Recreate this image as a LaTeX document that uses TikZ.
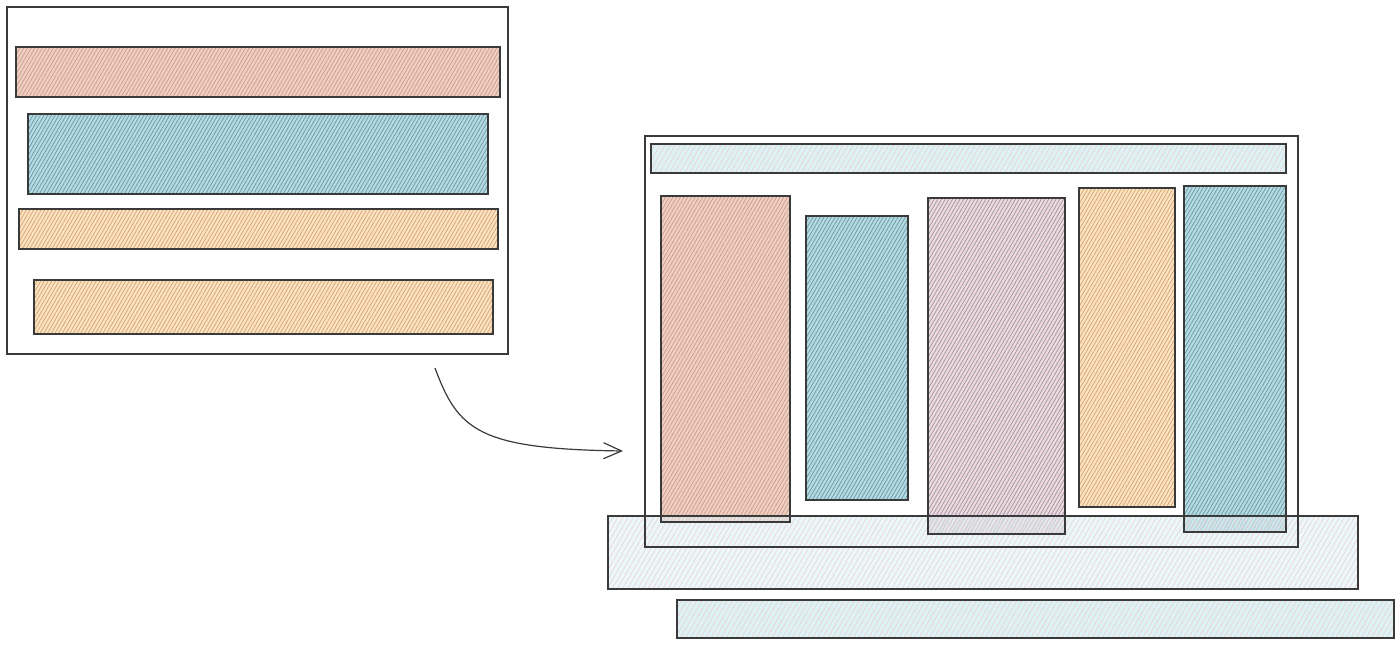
\documentclass[tikz,border=0pt]{standalone}
\usetikzlibrary{patterns.meta,arrows.meta}
\definecolor{ink}{HTML}{3A3A3A}
\definecolor{salF}{HTML}{EDCFC6}\definecolor{salH}{HTML}{CF9C82}
\definecolor{tealF}{HTML}{B2DCE3}\definecolor{tealH}{HTML}{6F959E}
\definecolor{orF}{HTML}{FBE3C0}\definecolor{orH}{HTML}{D5A274}
\definecolor{pkF}{HTML}{F2D8DC}\definecolor{pkH}{HTML}{8E9AA6}
\definecolor{ltF}{HTML}{DDF2F5}\definecolor{ltH}{HTML}{EDC9D0}
\newcommand\pbox[6]{\node[#2, anchor=north west, minimum width={(#5-#3)*0.5pt}, minimum height={(#6-#4)*0.5pt}] (#1) at (#3,#4) {};}
\tikzset{
  x=0.5pt, y=-0.5pt,
  base/.style={draw=ink, line width=0.55pt, inner sep=0pt, outer sep=0pt, rectangle},
  hatch/.style 2 args={base, preaction={fill=#1}, pattern={Lines[angle=60,distance=1.6pt,line width=0.35pt]}, pattern color=#2},
  sal/.style={hatch={salF}{salH}},
  tealb/.style={hatch={tealF}{tealH}},
  orb/.style={hatch={orF}{orH}},
  pkb/.style={hatch={pkF}{pkH}},
  ltb/.style={base, preaction={fill=ltF}, pattern={Lines[angle=60,distance=2.2pt,line width=0.25pt]}, pattern color=ltH},
  frame/.style={base, fill=white},
  outline/.style={draw=ink, line width=0.55pt},
  conn/.style={draw=ink, line width=0.6pt, -{Straight Barb[length=9pt,width=8pt]}}
}
\begin{document}
\begin{tikzpicture}
\useasboundingbox (0,0) rectangle (1400,646);
% left frame
\pbox{lf}{frame}{7}{7}{508}{354}
\pbox{l1}{sal}{16}{47}{500}{97}
\pbox{l2}{tealb}{28}{114}{488}{194}
\pbox{l3}{orb}{19}{209}{498}{249}
\pbox{l4}{orb}{34}{280}{493}{334}
% right frame
\pbox{rf}{frame}{645}{136}{1298}{547}
\pbox{rt}{ltb}{651}{144}{1286}{173}
\pbox{c1}{sal}{661}{196}{790}{522}
\pbox{c2}{tealb}{806}{216}{908}{500}
\pbox{c3}{pkb}{928}{198}{1065}{534}
\pbox{c4}{orb}{1079}{188}{1175}{507}
\pbox{c5}{tealb}{1184}{186}{1286}{532}
\begin{scope}[fill opacity=0.6]
\pbox{w1}{ltb}{608}{516}{1358}{589}
\end{scope}
% outlines seen through the translucent bar
\draw[outline] (rf.north west) rectangle (rf.south east);
\foreach \c in {c1,c3,c5} \draw[outline] (\c.north west) rectangle (\c.south east);
\pbox{w2}{ltb}{677}{600}{1394}{638}
% arrow
\coordinate (as) at (435,368);
\coordinate (ae) at (623,451);
\draw[conn] (as) .. controls (458,430) and (478,449) .. (ae);
\end{tikzpicture}
\end{document}
